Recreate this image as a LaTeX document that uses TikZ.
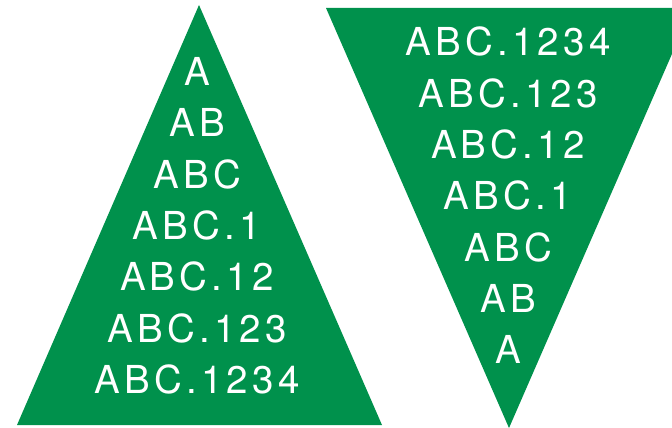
\documentclass[tikz,border=0pt]{standalone}
\usepackage{fontspec}
\setmainfont{TeX Gyre Heros}[LetterSpace=11]
\definecolor{leafgreen}{RGB}{0,145,76}
\begin{document}
\begin{tikzpicture}[x=1pt, y=-1pt,
  label/.style={text=white, font=\fontsize{38.5}{40}\selectfont, anchor=base, inner sep=0pt}]

% Frame and clipping
\useasboundingbox (0,0) rectangle (672,428);
\clip (0,0) rectangle (672,428);

% Define triangles
\fill[leafgreen] (199,5) -- (382,425) -- (17,425) -- cycle;
\fill[leafgreen] (326,8) -- (692,8) -- (509,428) -- cycle;

% Labels, growing downwards on the left
\foreach \txt [count=\i] in {A, AB, ABC, ABC.1, ABC.12, ABC.123, ABC.1234}
  \node[label] (up\i) at (197, {85.5 + 51.33*(\i-1)}) {\txt};

% Labels, shrinking downwards on the right
\foreach \txt [count=\i] in {ABC.1234, ABC.123, ABC.12, ABC.1, ABC, AB, A}
  \node[label] (down\i) at (508, {56 + 51.33*(\i-1)}) {\txt};

\end{tikzpicture}
\end{document}
